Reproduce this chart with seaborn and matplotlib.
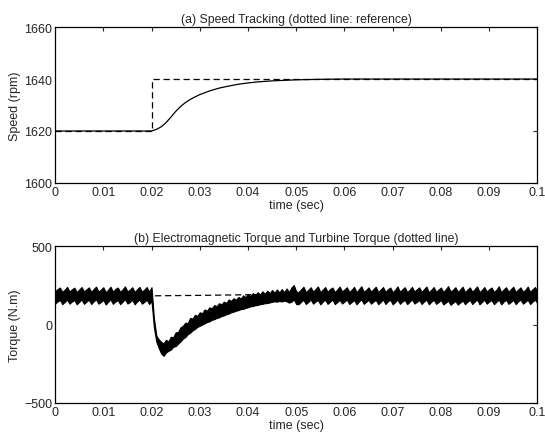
import numpy as np
import pandas as pd
import seaborn as sns
import matplotlib.pyplot as plt

# (a) speed tracking
speed_ref_t = [0.0, 0.02, 0.02, 0.1]
speed_ref = [1620, 1620, 1640, 1640]
speed_t = [0.0, 0.02, 0.021, 0.022, 0.023, 0.024, 0.025, 0.026, 0.027, 0.028,
           0.029, 0.030, 0.032, 0.034, 0.036, 0.038, 0.040, 0.042, 0.045,
           0.050, 0.055, 0.060, 0.1]
speed = [1620, 1620, 1620.6, 1621.6, 1623.2, 1625.3, 1627.5, 1629.4, 1630.9,
         1632.1, 1633.1, 1634.0, 1635.4, 1636.5, 1637.3, 1638.0, 1638.5,
         1638.9, 1639.3, 1639.7, 1639.9, 1640, 1640]

# (b) torque: upper / lower edge of the ripple band, sampled every 0.5 ms
torque_upper = [
    212, 226, 236, 208, 222, 240, 210, 225, 235, 207,
    223, 239, 211, 224, 237, 209, 226, 242, 210, 223,
    238, 206, 222, 241, 209, 227, 236, 208, 224, 243,
    211, 222, 238, 207, 225, 240, 210, 223, 239, 209,
    238, 40, -70, -95, -110, -120, -98, -108, -78, -82,
    -50, -48, -18, -8, 12, 8, 42, 38, 62, 55,
    78, 72, 96, 88, 110, 103, 124, 116, 136, 128,
    146, 138, 160, 150, 168, 158, 176, 166, 186, 175,
    194, 182, 200, 188, 206, 192, 212, 196, 216, 200,
    220, 203, 224, 205, 226, 206, 230, 208, 236, 252,
    210, 208, 224, 241, 207, 221, 238, 210, 226, 243,
    206, 222, 239, 209, 225, 236, 207, 223, 242, 211,
    224, 238, 208, 222, 240, 206, 225, 244, 209, 221,
    237, 210, 226, 241, 207, 223, 239, 208, 224, 236,
    206, 222, 243, 209, 225, 238, 207, 221, 240, 211,
    224, 237, 208, 226, 242, 206, 222, 239, 209, 223,
    236, 207, 225, 245, 210, 222, 238, 208, 224, 241,
    206, 223, 237, 209, 226, 243, 207, 221, 239, 210,
    225, 236, 208, 222, 244, 206, 224, 238, 209, 226,
    241, 207, 223, 237, 210, 221, 242, 208, 225, 239,
    212]
torque_lower = [
    134, 146, 157, 130, 144, 159, 133, 147, 156, 129,
    145, 160, 132, 146, 158, 131, 148, 161, 133, 144,
    157, 128, 145, 160, 132, 147, 155, 130, 146, 162,
    134, 143, 158, 129, 147, 159, 133, 144, 158, 131,
    150, -20, -110, -150, -185, -200, -178, -168, -160, -142,
    -138, -122, -108, -90, -80, -62, -52, -38, -28, -15,
    -8, 0, 8, 16, 20, 30, 34, 42, 46, 54,
    58, 66, 70, 78, 82, 88, 92, 98, 100, 106,
    110, 116, 118, 123, 125, 130, 132, 136, 137, 141,
    145, 148, 146, 150, 147, 152, 148, 140, 145, 160,
    130, 130, 145, 157, 131, 144, 159, 133, 147, 156,
    129, 146, 158, 132, 145, 160, 130, 143, 157, 134,
    146, 159, 131, 144, 156, 129, 147, 161, 132, 145,
    158, 133, 146, 157, 130, 144, 160, 131, 148, 158,
    129, 143, 159, 132, 146, 157, 130, 145, 161, 134,
    144, 156, 131, 147, 159, 129, 145, 158, 132, 143,
    157, 128, 140, 152, 126, 139, 150, 127, 141, 153,
    130, 145, 157, 131, 146, 160, 129, 144, 158, 133,
    147, 156, 130, 145, 159, 129, 146, 158, 132, 144,
    157, 130, 147, 160, 133, 145, 158, 131, 146, 159,
    135]
turbine_t = [0.0, 0.02, 0.03, 0.04, 0.05, 0.1]
turbine = [183, 183, 186, 190, 192, 192]

x_ticks = [0, 0.01, 0.02, 0.03, 0.04, 0.05, 0.06, 0.07, 0.08, 0.09, 0.1]
x_ticklabels = ['0', '0.01', '0.02', '0.03', '0.04', '0.05', '0.06', '0.07',
                '0.08', '0.09', '0.1']


def style_axes(ax, yticks, ylim, title, ylabel):
    ax.set_xlim(0, 0.1)
    ax.set_ylim(*ylim)
    ax.set_xticks(x_ticks)
    ax.set_xticklabels(x_ticklabels)
    ax.set_yticks(yticks)
    ax.tick_params(direction='in', top=True, right=True, length=3,
                   width=0.8, labelsize=9, pad=2)
    for s in ax.spines.values():
        s.set_visible(True)
        s.set_linewidth(0.9)
        s.set_color('black')
    ax.set_title(title, fontsize=8.8, pad=4)
    ax.set_xlabel('time (sec)', fontsize=9, labelpad=1)
    ax.set_ylabel(ylabel, fontsize=9, labelpad=2)


sns.set_style('white')
plt.rcParams['font.family'] = ['Liberation Sans', 'DejaVu Sans']

fig = plt.figure(figsize=(5.45, 4.39), dpi=100)
ax1 = fig.add_axes([0.101, 0.581, 0.885, 0.355])
ax2 = fig.add_axes([0.101, 0.080, 0.885, 0.357])

ref_df = pd.DataFrame({'t': speed_ref_t, 'v': speed_ref})
spd_df = pd.DataFrame({'t': speed_t, 'v': speed})
sns.lineplot(data=ref_df, x='t', y='v', ax=ax1, color='black', lw=0.9,
             dashes=False, sort=False, estimator=None)
ax1.lines[-1].set_dashes([5, 3])
sns.lineplot(data=spd_df, x='t', y='v', ax=ax1, color='black', lw=0.9,
             sort=False, estimator=None)
style_axes(ax1, [1600, 1620, 1640, 1660], (1600, 1660),
           '(a) Speed Tracking (dotted line: reference)', 'Speed (rpm)')

t_grid = np.linspace(0, 0.1, len(torque_upper))
tur_df = pd.DataFrame({'t': turbine_t, 'v': turbine})
sns.lineplot(data=tur_df, x='t', y='v', ax=ax2, color='black', lw=0.9,
             estimator=None, zorder=1)
ax2.lines[-1].set_dashes([5, 3])
ax2.fill_between(t_grid, torque_lower, torque_upper, color='black', lw=0.8,
                 edgecolor='black', zorder=2)
style_axes(ax2, [-500, 0, 500], (-500, 500),
           '(b) Electromagnetic Torque and Turbine Torque (dotted line)',
           'Torque (N.m)')

fig.savefig('out.png', dpi=100)
